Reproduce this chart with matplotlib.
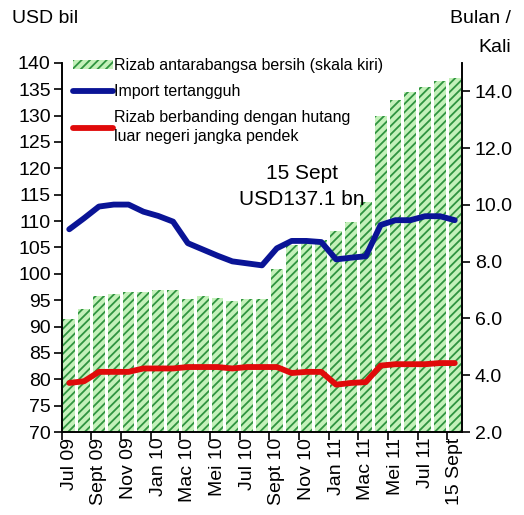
import numpy as np
import matplotlib
matplotlib.use("Agg")
import matplotlib.pyplot as plt
from matplotlib.patches import Patch

plt.rcParams['font.family'] = ['Liberation Sans', 'DejaVu Sans']
plt.rcParams['hatch.color'] = '#2f9440'
plt.rcParams['hatch.linewidth'] = 1.3

# monthly, Jul 09 .. Aug 11, then 15 Sept 11
rizab = [91.4, 93.4, 95.8, 96.2, 96.5, 96.5, 97.0, 97.0, 95.3, 95.8, 95.5, 94.9,
         95.3, 95.3, 101.0, 105.5, 105.8, 106.4, 108.2, 109.9, 113.7, 130.0,
         133.0, 134.4, 135.5, 136.6, 137.1]
import_cover = [9.14, 9.53, 9.94, 10.01, 10.01, 9.76, 9.61, 9.41, 8.65, 8.43, 8.21,
                8.01, 7.94, 7.87, 8.47, 8.73, 8.73, 8.69, 8.08, 8.14, 8.19, 9.29,
                9.46, 9.46, 9.60, 9.60, 9.46]
rizab_hutang = [3.73, 3.79, 4.12, 4.12, 4.12, 4.24, 4.24, 4.24, 4.29, 4.29, 4.29,
                4.24, 4.29, 4.29, 4.29, 4.08, 4.12, 4.12, 3.67, 3.73, 3.76, 4.34,
                4.39, 4.39, 4.39, 4.43, 4.43]
labels = ["Jul 09", "Sept 09", "Nov 09", "Jan 10", "Mac 10", "Mei 10", "Jul 10",
          "Sept 10", "Nov 10", "Jan 11", "Mac 11", "Mei 11", "Jul 11", "15 Sept"]

x = np.arange(len(rizab))
fill_c = '#c4f1ba'
hatch_c = '#2f9440'

fig = plt.figure(figsize=(5.24, 5.15), dpi=100)
ax = fig.add_axes([0.118, 0.161, 0.764, 0.717])
ax2 = ax.twinx()

# fill first, then hatch on top (hatch takes the edge colour)
ax.bar(x, np.array(rizab) - 70, bottom=70, width=0.8, color=fill_c, edgecolor='none')
bars = ax.bar(x, np.array(rizab) - 70, bottom=70, width=0.8, facecolor='none',
              edgecolor=hatch_c, linewidth=0, hatch='////',
              label='Rizab antarabangsa bersih (skala kiri)')
l1, = ax2.plot(x, import_cover, color='#0a1496', lw=4.2, solid_capstyle='round',
               label='Import tertangguh')
l2, = ax2.plot(x, rizab_hutang, color='#e00a0a', lw=4.2, solid_capstyle='round',
               label='Rizab berbanding dengan hutang\nluar negeri jangka pendek')

ax.set_ylim(70, 140)
ax.set_yticks(np.arange(70, 141, 5))
ax2.set_ylim(2, 15)
ax2.set_yticks(np.arange(2, 15, 2))
ax2.set_yticklabels([f"{v:.1f}" for v in np.arange(2, 15, 2)])
ax.set_xlim(-0.5, 26.5)

ax.set_xticks(np.arange(-0.5, 27, 2))
ax.set_xticklabels([])
ax.set_xticks(np.arange(0, 27, 2), minor=True)
ax.set_xticklabels(labels, minor=True, rotation=90, fontsize=14)
ax.tick_params(axis='x', which='minor', length=0, pad=4)
ax.tick_params(axis='x', which='major', length=6, width=1.2, direction='out')
ax.tick_params(axis='y', length=6, width=1.2, labelsize=14, pad=2)
ax2.tick_params(axis='y', length=6, width=1.2, labelsize=14, pad=3)

for a in (ax, ax2):
    a.spines['top'].set_visible(False)
    for s in ('left', 'right', 'bottom'):
        a.spines[s].set_linewidth(1.2)

ax.set_zorder(ax2.get_zorder() - 1)
ax2.patch.set_visible(False)

proxy = Patch(facecolor=fill_c, edgecolor=hatch_c, linewidth=0, hatch='////')
leg = ax2.legend([proxy, l1, l2], [bars.get_label(), l1.get_label(), l2.get_label()],
                 loc='upper left', bbox_to_anchor=(0.0, 1.043), frameon=False,
                 fontsize=11.5, handlelength=2.5, handleheight=0.5, handletextpad=0.05,
                 labelspacing=0.68, borderaxespad=0.3)
for t in leg.get_texts():
    t.set_linespacing(1.35)

ax2.text(0.60, 0.665, "15 Sept\nUSD137.1 bn", transform=ax2.transAxes, ha='center',
         va='center', fontsize=15, linespacing=1.5)

fig.text(0.023, 0.965, "USD bil", fontsize=14, va='center')
fig.text(0.975, 0.965, "Bulan /", fontsize=14, va='center', ha='right')
fig.text(0.975, 0.908, "Kali", fontsize=14, va='center', ha='right')

fig.savefig("out.png", dpi=100)
